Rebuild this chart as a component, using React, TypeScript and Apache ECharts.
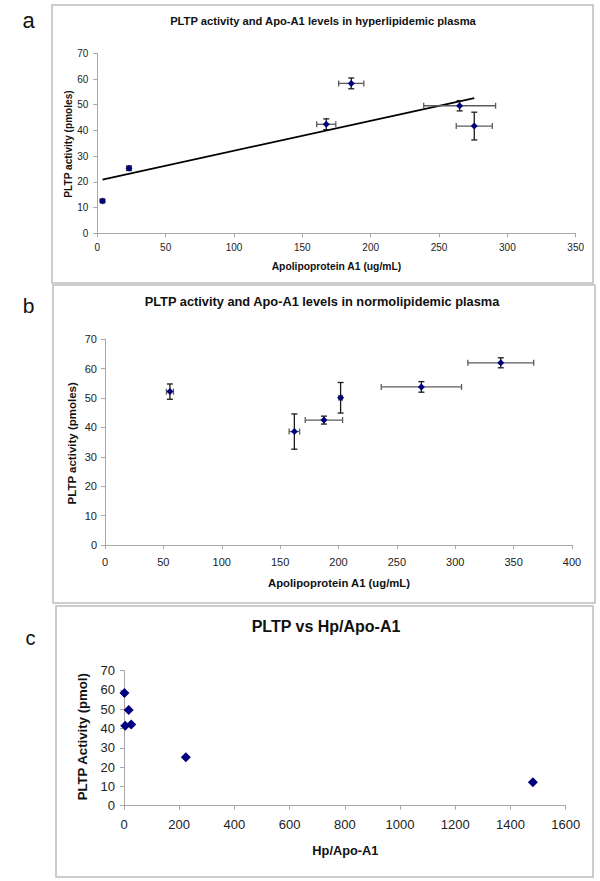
import React, { useEffect, useRef } from "react";
import * as echarts from "echarts";

const FONT = '"Liberation Sans", Arial, Helvetica, sans-serif';

// Panel a: hyperlipidemic plasma
const aApoA1 = [3.8, 23.2, 167.5, 185.8, 265.1, 275.8];
const aPLTP = [12.6, 25.3, 42.4, 58.3, 49.6, 41.7];
const aApoA1Err = [1.2, 1.5, 7, 9.2, 26.3, 13.2];
const aPLTPErr = [0.6, 0.8, 2.1, 2.1, 2, 5.4];
const aTrendX = [3.8, 275.8];
const aTrendY = [20.9, 52.6];
const aXTicks = [0, 50, 100, 150, 200, 250, 300, 350];
const aYTicks = [0, 10, 20, 30, 40, 50, 60, 70];

// Panel b: normolipidemic plasma
const bApoA1 = [55.6, 162.2, 187.5, 201.8, 271, 339];
const bPLTP = [52.2, 38.6, 42.5, 50.1, 53.8, 62.0];
const bApoA1Err = [3, 4.5, 16, 1.5, 34.4, 28.2];
const bPLTPErr = [2.6, 6, 1.35, 5.2, 1.8, 1.7];
const bXTicks = [0, 50, 100, 150, 200, 250, 300, 350, 400];
const bYTicks = [0, 10, 20, 30, 40, 50, 60, 70];

// Panel c: PLTP vs Hp/Apo-A1
const cHpApo = [1.5, 17, 4.5, 26, 224, 1481];
const cPLTP = [58.5, 49.6, 41.5, 42.1, 25.1, 12.1];
const cXTicks = [0, 200, 400, 600, 800, 1000, 1200, 1400, 1600];
const cYTicks = [0, 10, 20, 30, 40, 50, 60, 70];

const NAVY = "#00007f";
const AXIS = "#a8a8a8";

function valAxis(gridIndex: number, ticks: number[], size: number, margin: number) {
  return {
    type: "value",
    gridIndex,
    min: ticks[0],
    max: ticks[ticks.length - 1],
    interval: ticks[1] - ticks[0],
    splitLine: { show: false },
    axisLine: { show: true, onZero: false, lineStyle: { color: AXIS, width: 1 } },
    axisTick: { show: true, length: 4, lineStyle: { color: AXIS, width: 1 } },
    axisLabel: {
      fontFamily: FONT,
      fontSize: size,
      color: "#222",
      margin,
      formatter: (v: number) => String(v),
    },
  };
}

function errorBars(idx: number, xs: number[], ys: number[], exs: number[], eys: number[]) {
  const data = xs.map((x, i) => [x, ys[i], exs[i], eys[i]]);
  return {
    type: "custom",
    xAxisIndex: idx,
    yAxisIndex: idx,
    data,
    encode: { x: 0, y: 1 },
    z: 2,
    silent: true,
    renderItem: (_params: any, api: any) => {
      const x = api.value(0);
      const y = api.value(1);
      const ex = api.value(2);
      const ey = api.value(3);
      const l = api.coord([x - ex, y]);
      const r = api.coord([x + ex, y]);
      const t = api.coord([x, y + ey]);
      const b = api.coord([x, y - ey]);
      const cap = 3;
      const hs = { stroke: "#5c5c5c", lineWidth: 1.3 };
      const vs = { stroke: "#1a1a1a", lineWidth: 1.3 };
      return {
        type: "group",
        children: [
          { type: "line", shape: { x1: l[0], y1: l[1], x2: r[0], y2: r[1] }, style: hs },
          { type: "line", shape: { x1: l[0], y1: l[1] - cap, x2: l[0], y2: l[1] + cap }, style: hs },
          { type: "line", shape: { x1: r[0], y1: r[1] - cap, x2: r[0], y2: r[1] + cap }, style: hs },
          { type: "line", shape: { x1: t[0], y1: t[1], x2: b[0], y2: b[1] }, style: vs },
          { type: "line", shape: { x1: t[0] - cap, y1: t[1], x2: t[0] + cap, y2: t[1] }, style: vs },
          { type: "line", shape: { x1: b[0] - cap, y1: b[1], x2: b[0] + cap, y2: b[1] }, style: vs },
        ],
      };
    },
  };
}

function txt(text: string, x: number, y: number, size: number, bold: boolean, vertical = false) {
  return {
    type: "text",
    x,
    y,
    rotation: vertical ? Math.PI / 2 : 0,
    style: {
      text,
      fill: "#111",
      font: `${bold ? "bold " : ""}${size}px ${FONT}`,
      textAlign: "center",
      textVerticalAlign: "middle",
      align: "center",
      verticalAlign: "middle",
    },
  };
}

function box(x: number, y: number, w: number, h: number) {
  return {
    type: "rect",
    shape: { x, y, width: w, height: h },
    style: { fill: "none", stroke: "#bdbdbd", lineWidth: 1.5 },
  };
}

export default function App() {
  const ref = useRef<HTMLDivElement>(null);
  useEffect(() => {
    if (!ref.current) return;
    const chart = echarts.init(ref.current, null, { renderer: "svg" });
    chart.setOption({
      animation: false,
      backgroundColor: "#ffffff",
      grid: [
        { left: 97.3, top: 53.3, width: 478.4, height: 180 },
        { left: 105, top: 339.3, width: 467, height: 205.7 },
        { left: 124, top: 670.7, width: 441.7, height: 135 },
      ],
      xAxis: [
        valAxis(0, aXTicks, 10, 9),
        valAxis(1, bXTicks, 11, 11),
        valAxis(2, cXTicks, 13, 12),
      ],
      yAxis: [
        valAxis(0, aYTicks, 10, 9),
        valAxis(1, bYTicks, 11, 8),
        valAxis(2, cYTicks, 13, 9),
      ],
      graphic: [
        box(52, 5, 541, 278),
        box(53, 285, 542, 318),
        box(56, 606, 537, 271),
        txt("a", 28.7, 20, 22, false),
        txt("b", 28.6, 305, 21, false),
        txt("c", 30.4, 637.7, 20, false),
        txt("PLTP activity and Apo-A1 levels in hyperlipidemic plasma", 323, 20.7, 11.2, true),
        txt("Apolipoprotein A1 (ug/mL)", 336.4, 266.7, 10.3, true),
        txt("PLTP activity (pmoles)", 68, 144, 10.1, true, true),
        txt("PLTP activity and Apo-A1 levels in normolipidemic plasma", 322, 301.7, 12.8, true),
        txt("Apolipoprotein A1 (ug/mL)", 339, 583, 11.3, true),
        txt("PLTP activity (pmoles)", 72.4, 443.3, 11.5, true, true),
        txt("PLTP vs Hp/Apo-A1", 326, 626, 16, true),
        txt("Hp/Apo-A1", 345.4, 850, 12.8, true),
        txt("PLTP Activity (pmol)", 82, 736.7, 13.2, true, true),
      ],
      series: [
        {
          type: "line",
          xAxisIndex: 0,
          yAxisIndex: 0,
          data: aTrendX.map((x, i) => [x, aTrendY[i]]),
          showSymbol: false,
          symbol: "none",
          lineStyle: { color: "#000", width: 1.8 },
          z: 1,
          silent: true,
        },
        errorBars(0, aApoA1, aPLTP, aApoA1Err, aPLTPErr),
        {
          type: "scatter",
          xAxisIndex: 0,
          yAxisIndex: 0,
          data: aApoA1.map((x, i) => [x, aPLTP[i]]),
          symbol: "diamond",
          symbolSize: 7,
          itemStyle: { color: NAVY, opacity: 1 },
          z: 3,
        },
        errorBars(1, bApoA1, bPLTP, bApoA1Err, bPLTPErr),
        {
          type: "scatter",
          xAxisIndex: 1,
          yAxisIndex: 1,
          data: bApoA1.map((x, i) => [x, bPLTP[i]]),
          symbol: "diamond",
          symbolSize: 7,
          itemStyle: { color: NAVY, opacity: 1 },
          z: 3,
        },
        {
          type: "scatter",
          xAxisIndex: 2,
          yAxisIndex: 2,
          data: cHpApo.map((x, i) => [x, cPLTP[i]]),
          symbol: "diamond",
          symbolSize: 10,
          itemStyle: { color: NAVY, opacity: 1 },
          z: 3,
        },
      ],
    });
    return () => chart.dispose();
  }, []);
  return (
    <div
      ref={ref}
      style={{ position: "absolute", left: 0, top: 0, width: 600, height: 881, background: "#fff" }}
    />
  );
}
